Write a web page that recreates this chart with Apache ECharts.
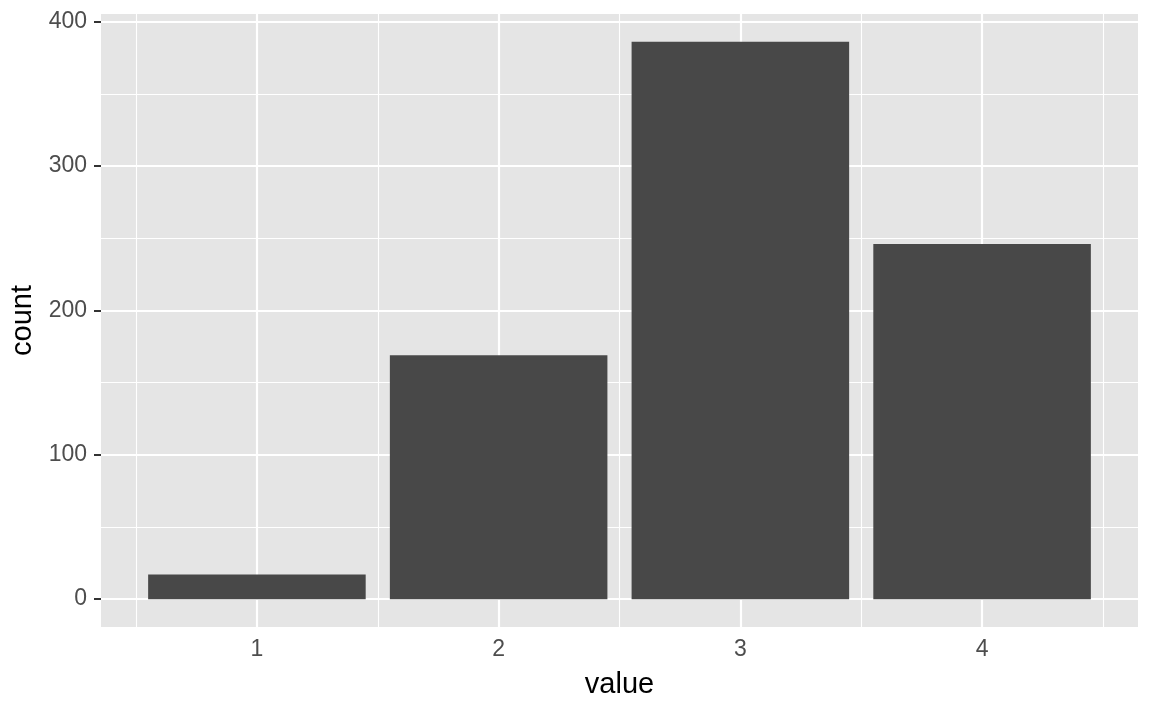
<!DOCTYPE html>
<html>
<head>
    <meta charset="utf-8">
    <script src="https://cdn.jsdelivr.net/npm/echarts@6/dist/echarts.min.js"></script>
    <style>
        html, body { margin: 0; padding: 0; background: #ffffff; }
        #main { width: 1152px; height: 711px; }
    </style>
</head>
<body>
<div id="main"></div>
<script>
    // data
    var values = [1, 2, 3, 4];
    var counts = [17, 169, 386, 246];
    var xTicks = [1, 2, 3, 4];
    var yTicks = [0, 100, 200, 300, 400];
    var xMinor = [0.5, 1.5, 2.5, 3.5, 4.5];
    var yMinor = [50, 150, 250, 350];

    var barHalf = 0.45;
    // ggplot style 5% expansion
    var xMin = 0.55 - 0.195, xMax = 4.45 + 0.195;
    var yMin = -0.05 * 386, yMax = 1.05 * 386;

    var font = '"Liberation Sans", Arial, Helvetica, sans-serif';

    var gridData = [];
    xMinor.forEach(function (v) { gridData.push({ xAxis: v, lineStyle: { width: 1.1 } }); });
    yMinor.forEach(function (v) { gridData.push({ yAxis: v, lineStyle: { width: 1.1 } }); });
    xTicks.forEach(function (v) { gridData.push({ xAxis: v, lineStyle: { width: 2.2 } }); });
    yTicks.forEach(function (v) { gridData.push({ yAxis: v, lineStyle: { width: 2.2 } }); });

    var chart = echarts.init(document.getElementById('main'));
    chart.setOption({
        animation: false,
        grid: {
            left: 101, right: 14, top: 14, bottom: 84,
            show: true, backgroundColor: '#E5E5E5', borderWidth: 0
        },
        xAxis: {
            type: 'value', min: xMin, max: xMax,
            name: 'value', nameLocation: 'middle', nameGap: 43,
            nameTextStyle: { color: '#000000', fontSize: 29, fontFamily: font },
            axisLine: { show: false },
            axisTick: { show: true, customValues: xTicks, length: 7, lineStyle: { color: '#333333', width: 2 } },
            axisLabel: { customValues: xTicks, margin: 11, color: '#4D4D4D', fontSize: 23, fontFamily: font },
            splitLine: { show: false }
        },
        yAxis: {
            type: 'value', min: yMin, max: yMax,
            name: 'count', nameLocation: 'middle', nameGap: 58, nameRotate: 90,
            nameTextStyle: { color: '#000000', fontSize: 29, fontFamily: font },
            axisLine: { show: false },
            axisTick: { show: true, customValues: yTicks, length: 7, lineStyle: { color: '#333333', width: 2 } },
            axisLabel: { customValues: yTicks, margin: 14, color: '#4D4D4D', fontSize: 23, fontFamily: font },
            splitLine: { show: false }
        },
        series: [
            {
                type: 'line', data: [], z: 1, silent: true,
                markLine: {
                    silent: true, symbol: ['none', 'none'],
                    label: { show: false },
                    emphasis: { disabled: true },
                    lineStyle: { color: '#ffffff', type: 'solid' },
                    data: gridData
                }
            },
            {
                type: 'custom', z: 10,
                data: values.map(function (v, i) { return [v, counts[i]]; }),
                encode: { x: 0, y: 1 },
                renderItem: function (params, api) {
                    var x = api.value(0), y = api.value(1);
                    var p1 = api.coord([x - barHalf, y]);
                    var p2 = api.coord([x + barHalf, 0]);
                    return {
                        type: 'rect',
                        shape: { x: p1[0], y: p1[1], width: p2[0] - p1[0], height: p2[1] - p1[1] },
                        style: { fill: '#484848' }
                    };
                }
            }
        ]
    });
</script>
</body>
</html>
